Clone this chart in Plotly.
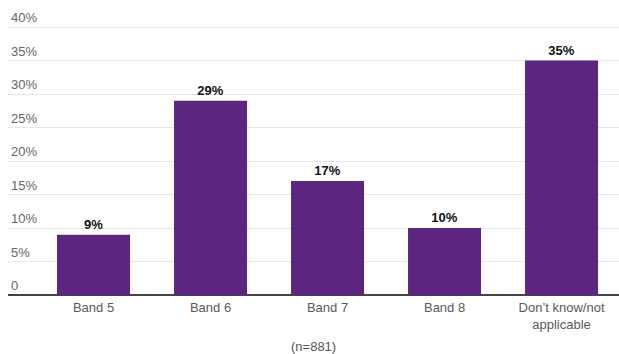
import plotly.graph_objects as go

categories = ["Band 5", "Band 6", "Band 7", "Band 8", "Don’t know/not<br>applicable"]
values = [9, 29, 17, 10, 35]
tick_vals = [0, 5, 10, 15, 20, 25, 30, 35, 40]
tick_text = ["0", "5%", "10%", "15%", "20%", "25%", "30%", "35%", "40%"]
sample_note = "(n=881)"

fig = go.Figure(
    go.Bar(
        x=list(range(len(categories))),
        y=values,
        width=0.624,
        marker=dict(color="#5B2580", line=dict(width=0)),
        text=[f"<b>{v}%</b>" for v in values],
        textposition="outside",
        textfont=dict(family="Liberation Sans, Arial, sans-serif", size=13, color="#111"),
        cliponaxis=False,
    )
)

fig.update_layout(
    width=619,
    height=354,
    margin=dict(l=8, r=0, t=10, b=59),
    plot_bgcolor="white",
    paper_bgcolor="white",
    showlegend=False,
    font=dict(family="Liberation Sans, Arial, sans-serif", size=13, color="#555"),
    xaxis=dict(
        range=[-0.731, 4.491],
        tickvals=list(range(len(categories))),
        ticktext=categories,
        showgrid=False,
        zeroline=False,
        ticks="",
        ticklabelstandoff=3,
        tickfont=dict(size=13, color="#5a5a5a"),
    ),
    yaxis=dict(
        range=[0, 42.54],
        tickvals=tick_vals,
        ticktext=tick_text,
        ticklabelposition="inside top",
        ticks="",
        showgrid=True,
        gridcolor="#e6e6e6",
        gridwidth=1,
        zeroline=True,
        zerolinecolor="#444",
        zerolinewidth=2,
        tickfont=dict(size=13, color="#666"),
    ),
    annotations=[
        dict(
            text=sample_note,
            xref="paper",
            yref="paper",
            x=0.5,
            y=-0.182,
            yanchor="middle",
            showarrow=False,
            font=dict(size=13, color="#555"),
        )
    ],
)

fig.write_html("out.html")
